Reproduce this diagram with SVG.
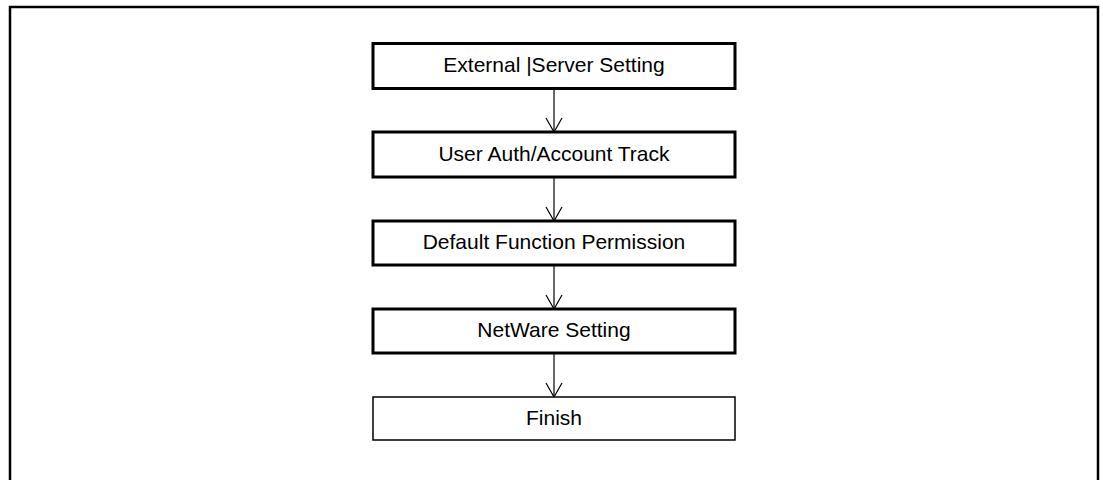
<svg xmlns="http://www.w3.org/2000/svg" width="1103" height="480" viewBox="0 0 1103 480">
<style>
.box{fill:#fff;stroke:#000;stroke-width:3}
.thin{fill:#fff;stroke:#000;stroke-width:1.5}
.lbl{font-family:"Liberation Sans",Arial,Helvetica,sans-serif;font-size:21px;fill:#000;text-anchor:middle}
.conn{stroke:#000;stroke-width:1.2;fill:none;marker-end:url(#v)}
</style>
<defs>
<marker id="v" markerWidth="20" markerHeight="20" refX="16" refY="10" orient="auto" markerUnits="userSpaceOnUse" viewBox="0 0 20 20">
<path d="M2,2 L16,10 L2,18" fill="none" stroke="#000" stroke-width="1.2"/>
</marker>
</defs>
<rect width="1103" height="480" fill="#fff"/>
<path d="M10,481 V7 H1098 V481" fill="none" stroke="#000" stroke-width="2.5"/>
<g id="connectors">
<path class="conn" d="M554,88 V132"/>
<path class="conn" d="M554,177 V221"/>
<path class="conn" d="M554,265 V309"/>
<path class="conn" d="M554,353 V397"/>
</g>
<g id="n1"><rect class="box" x="373" y="43.5" width="362" height="45"/><text class="lbl" x="554" y="72">External |Server Setting</text></g>
<g id="n2"><rect class="box" x="373" y="132" width="362" height="45"/><text class="lbl" x="554" y="161">User Auth/Account Track</text></g>
<g id="n3"><rect class="box" x="373" y="221" width="362" height="44"/><text class="lbl" x="554" y="249">Default Function Permission</text></g>
<g id="n4"><rect class="box" x="373" y="309" width="362" height="44"/><text class="lbl" x="554" y="337">NetWare Setting</text></g>
<g id="n5"><rect class="thin" x="373" y="397" width="362" height="43"/><text class="lbl" x="554" y="425">Finish</text></g>
</svg>
